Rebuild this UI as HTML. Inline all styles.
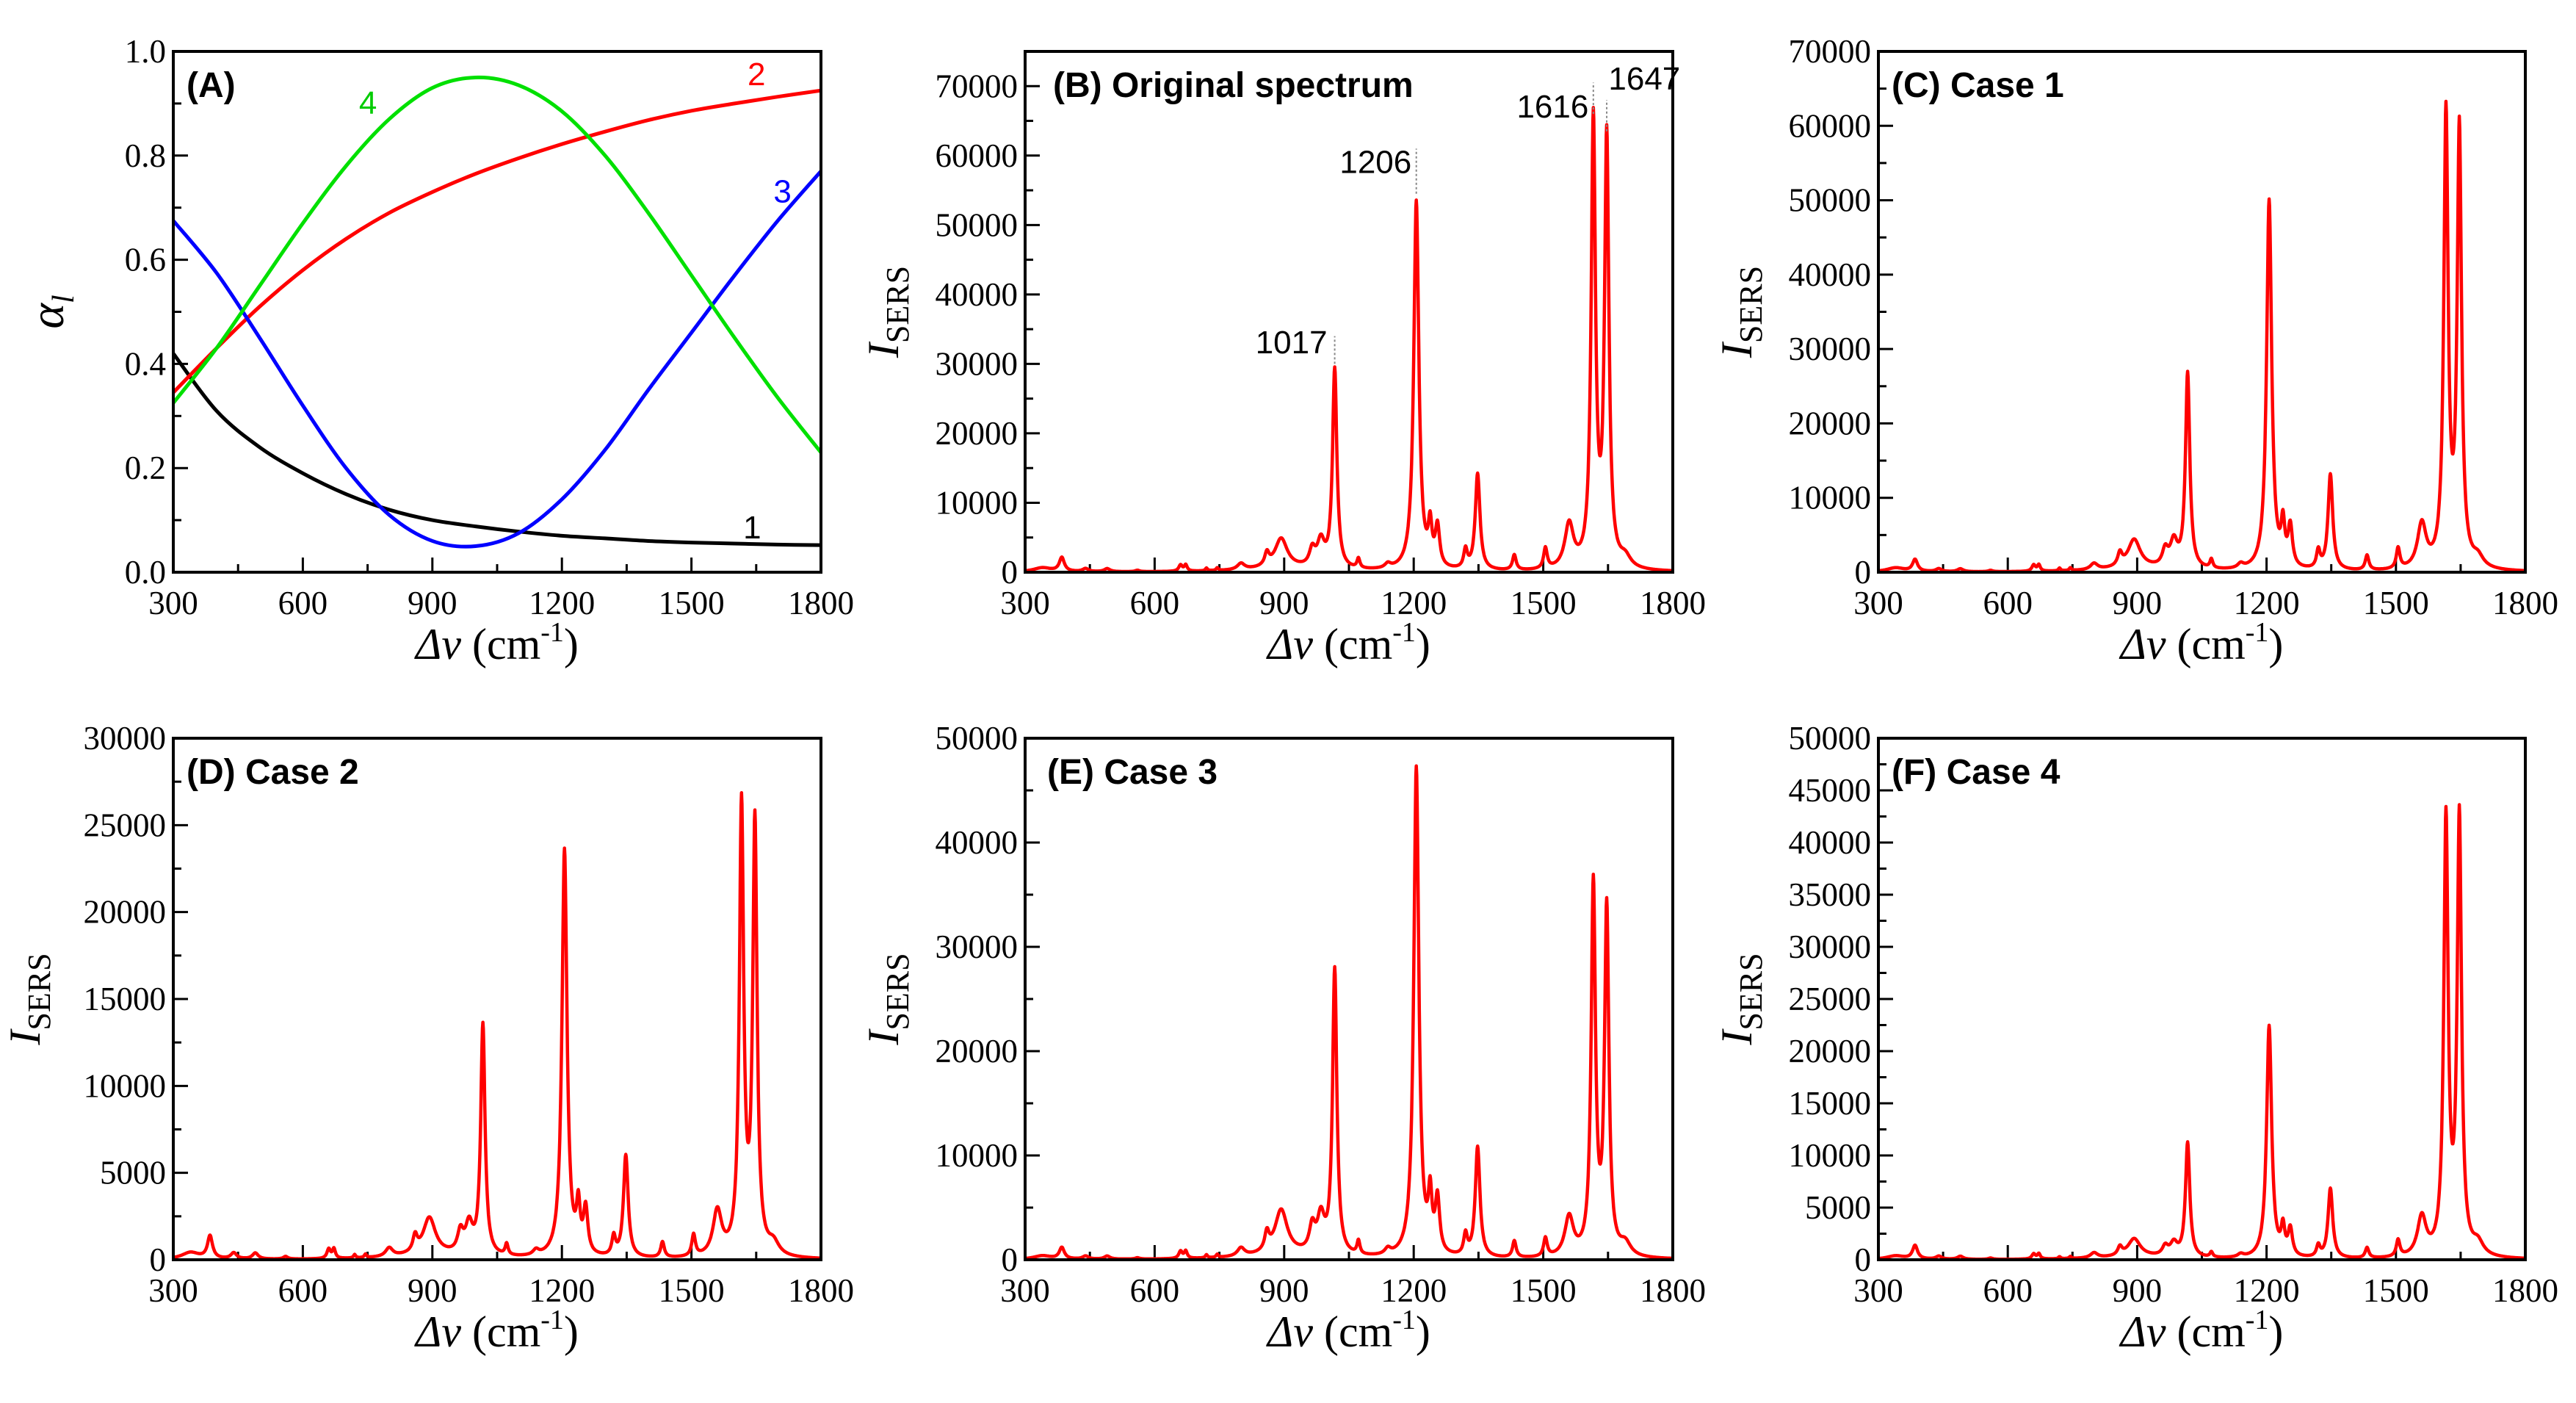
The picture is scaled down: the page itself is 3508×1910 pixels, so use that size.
<!DOCTYPE html>
<html><head><meta charset="utf-8"><style>
html,body{margin:0;padding:0;background:#fff;}
svg{display:block;}
</style></head><body>
<svg id="fig" width="3508" height="1910" viewBox="0 0 3508 1910" xmlns="http://www.w3.org/2000/svg"></svg>
<script>
// ---- Panel A data ----
const alphaX = [300,400,500,600,700,800,900,1000,1100,1200,1300,1400,1500,1600,1700,1800];
const alpha1 = [0.42,0.31,0.24,0.19,0.15,0.12,0.10,0.088,0.078,0.07,0.065,0.06,0.057,0.055,0.053,0.052];
const alpha2 = [0.345,0.43,0.51,0.58,0.64,0.69,0.73,0.765,0.795,0.822,0.846,0.868,0.886,0.90,0.913,0.925];
const alpha3 = [0.675,0.575,0.45,0.32,0.20,0.11,0.06,0.05,0.075,0.14,0.235,0.35,0.46,0.57,0.675,0.77];
const alpha4 = [0.325,0.43,0.55,0.67,0.78,0.87,0.93,0.95,0.935,0.885,0.80,0.69,0.57,0.45,0.335,0.23];
// ---- Spectra peak data ----
const peakCenters = [340,385,440,490,560,660,672,720,745,800,860,893,965,985,1017,1072,1140,1206,1238,1255,1320,1348,1433,1505,1560,1616,1647,1690,900];
const peakWidths  = [25,7,8,8,6,5,4,3,3,10,6,17,8,10,6,4,8,7,5,6,5,6.5,5,5,12,6,6,15,90];
const heightsB = [600,2000,450,450,200,900,900,400,400,900,1800,4200,2400,3700,28800,1400,650,53200,5600,5800,2700,13900,2200,3000,6400,64300,61800,1500,500];
const heightsC = [550,1600,400,400,180,850,850,380,380,850,1700,3800,2200,3400,26300,1200,600,49800,5400,5400,2400,12900,2000,2800,6000,60800,58800,1400,450];
const heightsD = [400,1300,350,350,150,550,550,200,200,500,900,2100,1200,1650,13300,650,300,23500,2600,2600,1100,5900,900,1250,2600,25800,24800,700,250];
const heightsE = [350,1100,300,300,130,700,700,300,300,800,1700,4200,2400,3400,27400,1300,550,47000,5200,5200,2000,10600,1600,1800,3800,35500,33200,1200,450];
const heightsF = [350,1300,300,300,130,500,500,200,200,500,800,1700,900,1250,11000,500,300,22300,2600,2600,1100,6700,1000,1600,3800,41700,41900,1200,250];
const xTicks = [300,600,900,1200,1500,1800];
const ticksA = ["0.0","0.2","0.4","0.6","0.8","1.0"];
const ticksB = [0,10000,20000,30000,40000,50000,60000,70000];
const ticksC = [0,10000,20000,30000,40000,50000,60000,70000];
const ticksD = [0,5000,10000,15000,20000,25000,30000];
const ticksE = [0,10000,20000,30000,40000,50000];
const ticksF = [0,5000,10000,15000,20000,25000,30000,35000,40000,45000,50000];

const NS="http://www.w3.org/2000/svg";
const svg=document.getElementById('fig');
const SERIF='"Liberation Serif", "DejaVu Serif", serif';
const SANS='"Liberation Sans", Arial, sans-serif';
function mk(tag,attrs,parent){const e=document.createElementNS(NS,tag);for(const k in attrs)e.setAttribute(k,attrs[k]);(parent||svg).appendChild(e);return e;}

function panel(id,L,R,T,B,ymax,yticks,yminor,titleOff,ylabelA){
  const g=mk('g',{});
  
  
  const sx=v=>L+(v-300)/1500*(R-L);
  const sy=v=>B-v/ymax*(B-T);
  for(let v=300;v<=1800;v+=150){
    const major=(v-300)%300===0;
    const t=mk('line',{x1:sx(v),x2:sx(v),y1:B,y2:B-(major?20:11),stroke:'#000','stroke-width':3},g);
    
    
  }
  xTicks.forEach(v=>{
    const t=mk('text',{x:sx(v),y:B+57,'text-anchor':'middle','font-family':SERIF,'font-size':45,fill:'#000'},g);t.textContent=v;
    
    
  });
  for(let v=0;v<=ymax+1e-9;v+=yminor){
    const major=Math.abs(v/(yminor*2)-Math.round(v/(yminor*2)))<1e-6;
    const t=mk('line',{x1:L,x2:L+(major?20:11),y1:sy(v),y2:sy(v),stroke:'#000','stroke-width':3},g);
    
    
  }
  yticks.forEach(lab=>{
    const v=typeof lab==='number'?lab:parseFloat(lab);
    const t=mk('text',{x:L-10,y:sy(v)+15,'text-anchor':'end','font-family':SERIF,'font-size':45,fill:'#000'},g);t.textContent=lab;
    
    
  });
  const xt=mk('text',{x:(L+R)/2,y:B+118,'text-anchor':'middle','font-family':SERIF,'font-size':60,fill:'#000'},g);
  xt.innerHTML='<tspan font-style="italic">Δv</tspan> (cm<tspan dy="-24" font-size="38">-1</tspan><tspan dy="24">)</tspan>';
  
  
  const yx=L-titleOff, yy=(T+B)/2;
  const yt=mk('text',{transform:`translate(${yx},${yy}) rotate(-90)`,'text-anchor':'middle','font-family':SERIF,'font-size':60,fill:'#000'},g);
  if(ylabelA) yt.innerHTML='<tspan font-style="italic" font-size="66">α</tspan><tspan font-style="italic" font-size="42" dy="14">l</tspan>';
  else yt.innerHTML='<tspan font-style="italic">I</tspan><tspan font-size="44" dy="14">SERS</tspan>';
  
  
  return {g,sx,sy};
}
function frame(g,L,R,T,B){
  const f=mk('rect',{x:L,y:T,width:R-L,height:B-T,fill:'none',stroke:'#000','stroke-width':4},g);
  
  
}
function plabel(g,x,y,txt){
  const t=mk('text',{x:x,y:y,'font-family':SANS,'font-weight':'bold','font-size':48,fill:'#000'},g);t.textContent=txt;
  
  
}
function catmull(pts){
  let d=`M${pts[0][0]},${pts[0][1]}`;
  for(let i=0;i<pts.length-1;i++){
    const p0=pts[Math.max(0,i-1)],p1=pts[i],p2=pts[i+1],p3=pts[Math.min(pts.length-1,i+2)];
    const c1=[p1[0]+(p2[0]-p0[0])/6,p1[1]+(p2[1]-p0[1])/6];
    const c2=[p2[0]-(p3[0]-p1[0])/6,p2[1]-(p3[1]-p1[1])/6];
    d+=` C${c1[0]},${c1[1]} ${c2[0]},${c2[1]} ${p2[0]},${p2[1]}`;
  }
  return d;
}
function spectrum(p,heights){
  let d='';
  for(let x=300;x<=1800;x+=1){
    let y=0;
    for(let i=0;i<peakCenters.length;i++){
      const w=peakWidths[i],dx=x-peakCenters[i];
      y+=heights[i]*w*w/(dx*dx+w*w);
    }
    d+=(x===300?'M':'L')+p.sx(x).toFixed(1)+','+p.sy(y).toFixed(1);
  }
  const path=mk('path',{d:d,fill:'none',stroke:'#ff0000','stroke-width':4.5,'stroke-linejoin':'round'},p.g);
  
  
}

const XL=[236,1396,2558], XR=[1118,2278,3439];
const TOP=[70,1005], BOT=[779,1715];
{
  const p=panel('a',XL[0],XR[0],TOP[0],BOT[0],1.0,ticksA,0.1,150,true);
  const series=[[alpha1,'#000000','curve-1'],[alpha2,'#ff0000','curve-2'],[alpha3,'#0000ff','curve-3'],[alpha4,'#00e000','curve-4']];
  series.forEach(s=>{
    const pts=alphaX.map((x,i)=>[p.sx(x),p.sy(s[0][i])]);
    const path=mk('path',{d:catmull(pts),fill:'none',stroke:s[1],'stroke-width':5},p.g);
    
    
  });
  const labs=[['1',1620,0.065,'#000'],['2',1630,0.935,'#ff0000'],['3',1690,0.71,'#0000ff'],['4',730,0.88,'#00cc00']];
  labs.forEach(l=>{
    const t=mk('text',{x:p.sx(l[1]),y:p.sy(l[2]),'font-family':SANS,'font-size':44,fill:l[3]},p.g);t.textContent=l[0];
    
    
  });
  frame(p.g,XL[0],XR[0],TOP[0],BOT[0]);
  plabel(p.g,XL[0]+18,TOP[0]+62,'(A)');
}
{
  const p=panel('b',XL[1],XR[1],TOP[0],BOT[0],75000,ticksB,5000,173,false);
  spectrum(p,heightsB);
  const ann=[[1017,30000,34000,'1017','end',1000,31500],[1206,54500,61000,'1206','end',1195,57500],[1616,66000,70500,'1616','end',1605,65500],[1647,63500,68000,'1647','start',1651,69500]];
  ann.forEach(a=>{
    const l=mk('line',{x1:p.sx(a[0]),x2:p.sx(a[0]),y1:p.sy(a[1]),y2:p.sy(a[2]),stroke:'#888','stroke-width':2,'stroke-dasharray':'3,3'},p.g);
    
    
    const t=mk('text',{x:p.sx(a[5]),y:p.sy(a[6]),'text-anchor':a[4],'font-family':SANS,'font-size':44,fill:'#000'},p.g);t.textContent=a[3];
    
    
  });
  frame(p.g,XL[1],XR[1],TOP[0],BOT[0]);
  plabel(p.g,XL[1]+38,TOP[0]+62,'(B) Original spectrum');
}
{
  const p=panel('c',XL[2],XR[2],TOP[0],BOT[0],70000,ticksC,5000,173,false);
  spectrum(p,heightsC);
  frame(p.g,XL[2],XR[2],TOP[0],BOT[0]);
  plabel(p.g,XL[2]+18,TOP[0]+62,'(C) Case 1');
}
{
  const p=panel('d',XL[0],XR[0],TOP[1],BOT[1],30000,ticksD,2500,182,false);
  spectrum(p,heightsD);
  frame(p.g,XL[0],XR[0],TOP[1],BOT[1]);
  plabel(p.g,XL[0]+18,TOP[1]+62,'(D) Case 2');
}
{
  const p=panel('e',XL[1],XR[1],TOP[1],BOT[1],50000,ticksE,5000,173,false);
  spectrum(p,heightsE);
  frame(p.g,XL[1],XR[1],TOP[1],BOT[1]);
  plabel(p.g,XL[1]+30,TOP[1]+62,'(E) Case 3');
}
{
  const p=panel('f',XL[2],XR[2],TOP[1],BOT[1],50000,ticksF,2500,173,false);
  spectrum(p,heightsF);
  frame(p.g,XL[2],XR[2],TOP[1],BOT[1]);
  plabel(p.g,XL[2]+18,TOP[1]+62,'(F) Case 4');
}
</script>
</body></html>
